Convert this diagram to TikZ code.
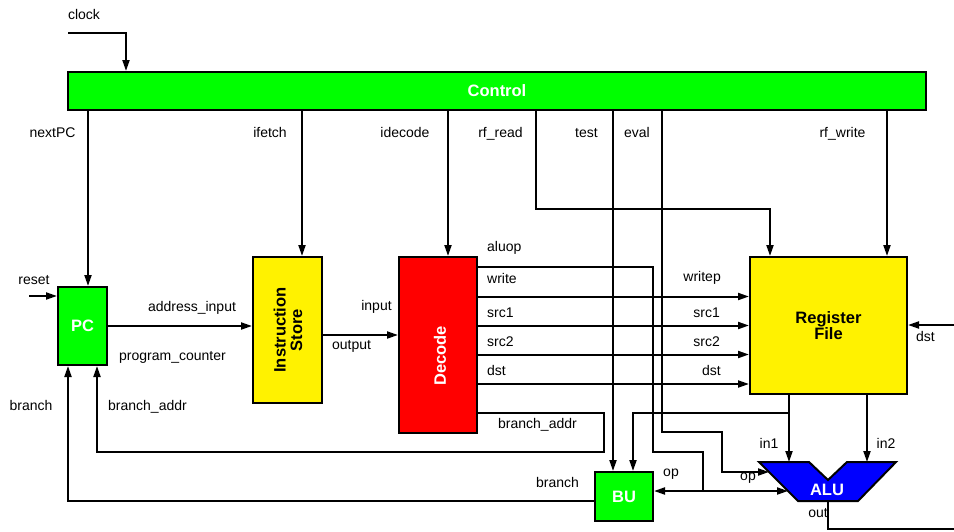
\documentclass[tikz,border=0pt]{standalone}
\usepackage{fontspec}
\setmainfont{Liberation Sans}
\usetikzlibrary{arrows.meta,calc}
\begin{document}
\begin{tikzpicture}[x=1pt,y=-1pt,
  wire/.style={line width=2pt},
  arr/.style={wire,-{Triangle[length=11pt,width=7pt]}},
  blk/.style={draw,line width=2pt,inner sep=0pt,font=\fontsize{16.5}{16}\selectfont\bfseries},
  lbl/.style={font=\fontsize{14}{16}\selectfont,inner sep=0pt,anchor=base},
  lblw/.style={lbl,anchor=base west},
  lble/.style={lbl,anchor=base east},
]
\useasboundingbox (0,0) rectangle (954,531);

% blocks
\node[blk,fill=green,text=white,minimum width=858,minimum height=38] (ctrl) at (497,91) {Control};
\node[blk,fill=green,text=white,minimum width=49,minimum height=78] (pc) at (82.5,326) {PC};
\node[blk,fill=yellow,minimum width=69,minimum height=146] (is) at (287.5,330) {};
\node[rotate=90,align=center,inner sep=0pt,font=\fontsize{16.5}{16.5}\selectfont\bfseries] (islbl) at (288,330) {Instruction\\Store};
\node[blk,fill=red,minimum width=78,minimum height=176] (dec) at (438,345) {};
\node[rotate=90,text=white,inner sep=0pt,font=\fontsize{16.5}{16}\selectfont\bfseries] (declbl) at (440,356) {Decode};
\node[blk,fill=yellow,align=center,minimum width=157,minimum height=137] (rf) at (828.5,325.5) {Register\\File};
\node[blk,fill=green,text=white,minimum width=58,minimum height=49] (bu) at (624,496.5) {BU};
\draw[line width=2pt,fill=blue] (759,462) -- (809,462) -- (828,480) -- (847,462) -- (896,462) -- (858,501) -- (798,501) -- cycle;
\node[text=white,inner sep=0pt,font=\fontsize{16.5}{16}\selectfont\bfseries] (alu) at (827,490) {ALU};

% coordinates
\coordinate (clk) at (68,33);
\coordinate (xclk) at (126,0);
\coordinate (xn) at (88,0);
\coordinate (xif) at (302,0);
\coordinate (xid) at (448,0);
\coordinate (xrr) at (536,0);
\coordinate (xrr2) at (770,0);
\coordinate (xt) at (613,0);
\coordinate (xe) at (662,0);
\coordinate (xrw) at (887,0);
\coordinate (ev1) at (722,432);
\coordinate (aluA) at (769,472);
\coordinate (aluB) at (788,491);
\coordinate (opj) at (703,491);
\coordinate (aop1) at (653,452);
\coordinate (rst) at (29,296);
\coordinate (ya) at (0,326);
\coordinate (yb) at (0,335);
\coordinate (yal) at (0,267);
\coordinate (yw) at (0,296.5);
\coordinate (ys1) at (0,325.5);
\coordinate (ys2) at (0,354.5);
\coordinate (yd) at (0,384);
\coordinate (yba) at (0,413);
\coordinate (ba1) at (604,452);
\coordinate (xba) at (97,0);
\coordinate (ybr) at (0,501);
\coordinate (xbr) at (68,0);
\coordinate (dstin) at (954,325);
\coordinate (xi1) at (789,0);
\coordinate (xi2) at (867,0);
\coordinate (alu1) at (789,462);
\coordinate (alu2) at (867,462);
\coordinate (i1j) at (789,413);
\coordinate (xbu2) at (633,0);
\coordinate (aluout) at (828,501);
\coordinate (outend) at (954,529);

% wires
\draw[arr] (clk) -| (ctrl.north -| xclk);
\draw[arr] (ctrl.south -| xn) -- (pc.north -| xn);
\draw[arr] (ctrl.south -| xif) -- (is.north -| xif);
\draw[arr] (ctrl.south -| xid) -- (dec.north -| xid);
\draw[arr] (ctrl.south -| xrr) -- ++(0,98) -| (rf.north -| xrr2);
\draw[arr] (ctrl.south -| xt) -- (bu.north -| xt);
\draw[arr] (ctrl.south -| xe) |- (ev1) |- (aluA);
\draw[arr] (ctrl.south -| xrw) -- (rf.north -| xrw);
\draw[arr] (rst) -- (pc.west |- rst);
\draw[arr] (pc.east |- ya) -- (is.west |- ya);
\draw[arr] (is.east |- yb) -- (dec.west |- yb);
\draw[wire] (dec.east |- yal) -| (aop1) -| (opj);
\draw[arr] (opj) -- (bu.east |- opj);
\draw[arr] (opj) -- (aluB);
\draw[arr] (dec.east |- yw) -- (rf.west |- yw);
\draw[arr] (dec.east |- ys1) -- (rf.west |- ys1);
\draw[arr] (dec.east |- ys2) -- (rf.west |- ys2);
\draw[arr] (dec.east |- yd) -- (rf.west |- yd);
\draw[arr] (dec.east |- yba) -| (ba1) -| (pc.south -| xba);
\draw[arr] (bu.west |- ybr) -| (pc.south -| xbr);
\draw[arr] (dstin) -- (rf.east |- dstin);
\draw[arr] (rf.south -| xi1) -- (alu1);
\draw[arr] (i1j) -| (bu.north -| xbu2);
\draw[arr] (rf.south -| xi2) -- (alu2);
\draw[wire] (aluout) |- (outend);

% labels
\node[lbl] (lclock) at (84,19) {clock};
\node[lbl] (lnext) at (52.5,137) {nextPC};
\node[lbl] (lifetch) at (270,137) {ifetch};
\node[lbl] (lidec) at (405,137) {idecode};
\node[lbl] (lrr) at (500.5,137) {rf\_read};
\node[lbl] (ltest) at (586.5,137) {test};
\node[lbl] (leval) at (637,137) {eval};
\node[lbl] (lrw) at (842.5,137) {rf\_write};
\node[lblw] (laluop) at (487,251) {aluop};
\node[lblw] (lwrite) at (487,283) {write};
\node[lblw] (ls1) at (487,317) {src1};
\node[lblw] (ls2) at (487,346) {src2};
\node[lblw] (ldst) at (487,375) {dst};
\node[lbl] (lbad) at (537.5,428) {branch\_addr};
\node[lble] (lwp) at (721,281) {writep};
\node[lble] (lrs1) at (720,317) {src1};
\node[lble] (lrs2) at (720,346) {src2};
\node[lble] (lrd) at (721,375) {dst};
\node[lbl] (ldstr) at (925.5,341) {dst};
\node[lbl] (lreset) at (34,284) {reset};
\node[lbl] (laddr) at (192,311) {address\_input};
\node[lbl] (lpcnt) at (172.5,360) {program\_counter};
\node[lbl] (lbr) at (31,410) {branch};
\node[lbl] (lbad2) at (147.5,410) {branch\_addr};
\node[lbl] (linput) at (376.5,310) {input};
\node[lbl] (loutput) at (351.5,349) {output};
\node[lbl] (lbrbu) at (557.5,487) {branch};
\node[lbl] (lop1) at (671,476) {op};
\node[lbl] (lop2) at (748,480) {op};
\node[lbl] (lin1) at (769,448) {in1};
\node[lbl] (lin2) at (886,448) {in2};
\node[lbl] (lout) at (818,517) {out};
\end{tikzpicture}
\end{document}
